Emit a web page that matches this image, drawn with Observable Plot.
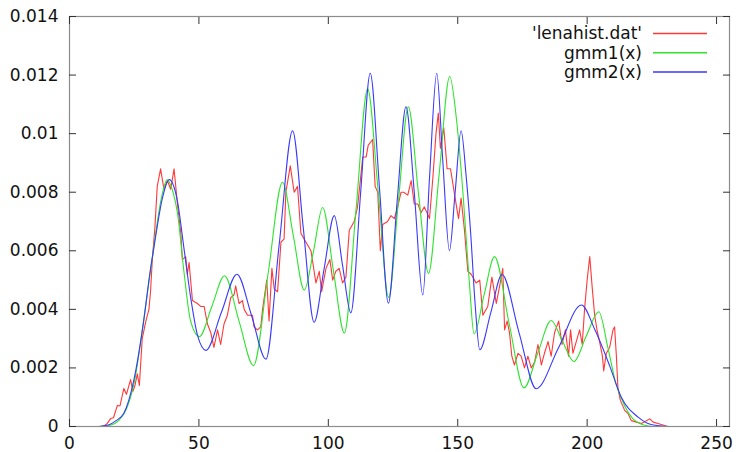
<!DOCTYPE html>
<html><head><meta charset="utf-8">
<script src="https://cdn.jsdelivr.net/npm/d3@7"></script>
<script src="https://cdn.jsdelivr.net/npm/@observablehq/plot@0.6"></script>
<style>
body{margin:0;background:#fff;}
#wrap{position:relative;width:736px;height:452px;font-family:"DejaVu Sans",sans-serif;color:#111;}
</style></head><body><div id="wrap"></div>
<script>
// Tick values / labels
const xTicks = [0, 50, 100, 150, 200, 250];
const yTicks = [0, 0.002, 0.004, 0.006, 0.008, 0.01, 0.012, 0.014];
const xDomain = [0, 255];
const yDomain = [0, 0.014];

// Series names and colours
const seriesNames = ["'lenahist.dat'", "gmm1(x)", "gmm2(x)"];
const seriesColors = ["#ff3838", "#2ee42e", "#3838ff"];

// 'lenahist.dat'
const lenahist = [[10,0],[13,0],[14.5,0.0001],[15.9,0.00027],[17,0.0003],[18.5,0.00072],[19.5,0.0007],[21,0.0013],[22,0.0011],[23.6,0.0016],[24.5,0.0012],[25.3,0.0014],[26.2,0.0018],[27,0.0014],[28.1,0.003],[29.5,0.0036],[30.7,0.004],[31.3,0.0046],[32,0.0057],[33,0.0068],[33.9,0.0082],[35.2,0.0088],[36.5,0.0081],[37.8,0.0084],[39.1,0.0081],[40.4,0.0088],[41.7,0.0076],[43,0.0066],[43.6,0.0057],[44.9,0.0058],[45.5,0.0052],[46.2,0.0056],[47.5,0.0043],[49.4,0.0042],[50.7,0.0041],[52,0.0041],[53.3,0.0035],[54.6,0.0032],[55.8,0.0027],[57.2,0.0033],[58.4,0.0028],[59.7,0.0035],[61,0.0038],[62.3,0.0044],[63.6,0.0045],[64.2,0.0048],[65.5,0.0042],[66.8,0.0043],[67.5,0.004],[68.8,0.0038],[70.7,0.0038],[71.3,0.0034],[72.6,0.0033],[73.9,0.0034],[74.6,0.004],[76.2,0.005],[77.1,0.0036],[78.2,0.0054],[79.1,0.0047],[80.4,0.0046],[81.7,0.0063],[82.9,0.0064],[83.6,0.008],[85.3,0.0089],[86.8,0.008],[88.1,0.0082],[89.4,0.0066],[91.3,0.0063],[93.3,0.006],[95.2,0.0049],[96.5,0.0053],[97.4,0.0046],[99.1,0.0054],[100.6,0.0057],[101.7,0.005],[102.9,0.0053],[104.2,0.0054],[105.5,0.0049],[106.8,0.0051],[108.1,0.0067],[110,0.007],[111.3,0.0075],[113.3,0.0092],[114.6,0.0092],[115.4,0.0096],[117.1,0.0098],[118.1,0.0082],[119.1,0.008],[120.1,0.006],[121,0.0069],[122.9,0.007],[124.2,0.0072],[125.5,0.0071],[126.8,0.0075],[128.1,0.008],[129.1,0.008],[130.7,0.0079],[132,0.0084],[133.2,0.0076],[134.6,0.0076],[135.8,0.0073],[137.1,0.0075],[139.1,0.0071],[140.4,0.0085],[141.6,0.01],[142.5,0.0107],[143.3,0.0095],[144.6,0.0102],[145.9,0.0088],[147.2,0.0088],[148.1,0.0083],[149,0.0078],[150.3,0.0071],[151.3,0.0078],[152.6,0.0067],[153.9,0.0053],[155.2,0.0052],[157.1,0.0049],[158.5,0.005],[159.7,0.0038],[161.6,0.0041],[163.2,0.0051],[164.9,0.0042],[166.2,0.0048],[167.4,0.0054],[168.1,0.0033],[169.1,0.0036],[170,0.0032],[170.9,0.0024],[171.9,0.0021],[173.3,0.0025],[174.5,0.0024],[175.8,0.002],[177.1,0.0024],[178.4,0.002],[179.7,0.0022],[181,0.0028],[182.3,0.0021],[183.5,0.0025],[184.9,0.0029],[186.1,0.0024],[187.4,0.0032],[189,0.0036],[190.3,0.0028],[191.6,0.0033],[192.8,0.0024],[193.6,0.0033],[194.5,0.0025],[195.8,0.0029],[197.1,0.0033],[198.1,0.0028],[199,0.004],[200,0.005],[201,0.0058],[202,0.0047],[202.9,0.0038],[203.8,0.0033],[204.8,0.0029],[205.9,0.0024],[206.4,0.0019],[207.4,0.0025],[208.7,0.0027],[210,0.0033],[210.6,0.0034],[211.3,0.0024],[211.9,0.0013],[212.8,0.0009],[214.5,0.00055],[215.8,0.00044],[217.1,0.0002],[219,0.00015],[221,0.0001],[222.9,0.0002],[224.2,0.00026],[225.5,0.00015],[227.4,0.0001],[229.3,0.00005],[231,0],[235,0]];

// gmm1(x)
const gmm1 = [[10,0],[13,0.00001],[16,0.00005],[19,0.0002],[22,0.0006],[25,0.0015],[28.8,0.0037],[32.5,0.0061],[35.5,0.0078],[37.7,0.00842],[40,0.008],[41.7,0.0073],[44.2,0.0053],[46.8,0.0036],[50.2,0.00307],[55,0.0041],[59.9,0.00515],[65.5,0.0036],[71.1,0.00208],[76.7,0.0052],[82.3,0.00834],[86.5,0.0065],[90.7,0.00466],[94.3,0.006],[97.8,0.00748],[102,0.0053],[106.2,0.00319],[110.7,0.0074],[115.2,0.01153],[119.3,0.008],[123.3,0.00441],[127.1,0.0077],[130.9,0.01092],[134.9,0.0079],[138.7,0.00523],[142.8,0.0086],[146.9,0.01195],[149.5,0.0105],[152,0.008],[154.5,0.0049],[156.3,0.00316],[160.2,0.0045],[164.2,0.0058],[169.9,0.0035],[175.6,0.00132],[180.9,0.0025],[186.1,0.00362],[190.5,0.0029],[194.9,0.00222],[199.7,0.0031],[204.5,0.00392],[208,0.0027],[211,0.0015],[214.5,0.0007],[217.7,0.00026],[221,0.00008],[225,0]];

// gmm2(x)
const gmm2 = [[10,0],[12,0.00001],[15,0.00005],[18,0.0002],[21,0.00045],[24.9,0.0016],[28.8,0.0037],[31,0.0052],[32.6,0.0061],[35.9,0.0078],[38.5,0.00843],[41.7,0.0077],[44.2,0.0061],[47,0.0043],[49.5,0.0031],[52.7,0.0026],[58.7,0.0039],[64.7,0.0052],[70.3,0.0038],[75.9,0.0023],[81,0.0062],[86.2,0.0101],[90.3,0.0068],[94.5,0.00356],[98.4,0.0054],[102.3,0.0072],[105.5,0.0055],[108.7,0.00388],[112.5,0.008],[116.2,0.01206],[119.8,0.0081],[123.2,0.00421],[126.6,0.0077],[130,0.01092],[133.2,0.008],[136.5,0.00449],[139.1,0.0085],[141.9,0.01206],[144.2,0.0091],[146.8,0.006],[149,0.008],[151.3,0.0101],[153.2,0.0086],[155,0.0066],[156.7,0.0042],[158.5,0.00262],[162.8,0.0039],[167.1,0.00519],[173.7,0.0032],[180.3,0.00129],[189,0.0027],[197.8,0.00415],[203,0.0033],[208.7,0.00207],[213.2,0.001],[219.7,0.00032],[225,0.00006],[232,0]];

const px = d => d[0], py = d => d[1];

const chart = Plot.plot({
  width: 736, height: 452,
  marginLeft: 69, marginRight: 7, marginTop: 16, marginBottom: 26,
  style: {fontFamily: "DejaVu Sans, sans-serif", fontSize: "17px", color: "#111", background: "#fff", overflow: "visible"},
  x: {domain: xDomain},
  y: {domain: yDomain},
  marks: [
    Plot.line(lenahist, {x: px, y: py, stroke: seriesColors[0], strokeWidth: 1.1}),
    Plot.line(gmm1, {x: px, y: py, stroke: seriesColors[1], strokeWidth: 1.1, curve: "monotone-x"}),
    Plot.line(gmm2, {x: px, y: py, stroke: seriesColors[2], strokeWidth: 1.1, curve: "monotone-x"}),
    Plot.frame({stroke: "#8c8c8c", strokeWidth: 1.2}),
    Plot.axisX(xTicks, {anchor: "bottom", tickSize: -7, tickFormat: () => "", label: null, stroke: "#333"}),
    Plot.axisX(xTicks, {anchor: "top", tickSize: -7, tickFormat: () => "", label: null, stroke: "#333"}),
    Plot.axisY(yTicks, {anchor: "left", tickSize: -7, tickFormat: () => "", label: null, stroke: "#333"}),
    Plot.axisY(yTicks, {anchor: "right", tickSize: -7, tickFormat: () => "", label: null, stroke: "#333"}),
    Plot.axisX(xTicks, {anchor: "bottom", tickSize: 0, tickPadding: 10, label: null, tickFormat: d3.format("~g"), fill: "#111"}),
    Plot.axisY(yTicks, {anchor: "left", tickSize: 0, tickPadding: 11, label: null, tickFormat: d3.format("~g"), fill: "#111"})
  ]
});
const wrap = document.getElementById("wrap");
wrap.appendChild(chart);

// Key (inside the frame, top right), added to the same SVG
const key = d3.select(chart).append("g")
  .attr("font-family", "DejaVu Sans, sans-serif").attr("font-size", 17);
seriesNames.forEach((name, i) => {
  const cy = 33.5 + i * 19.3;
  key.append("text").attr("x", 642).attr("y", cy).attr("dy", "0.35em")
    .attr("text-anchor", "end").attr("fill", "#111").text(name);
  key.append("line").attr("x1", 653).attr("x2", 707).attr("y1", cy).attr("y2", cy)
    .attr("stroke", seriesColors[i]).attr("stroke-width", 1.5);
});
</script></body></html>
